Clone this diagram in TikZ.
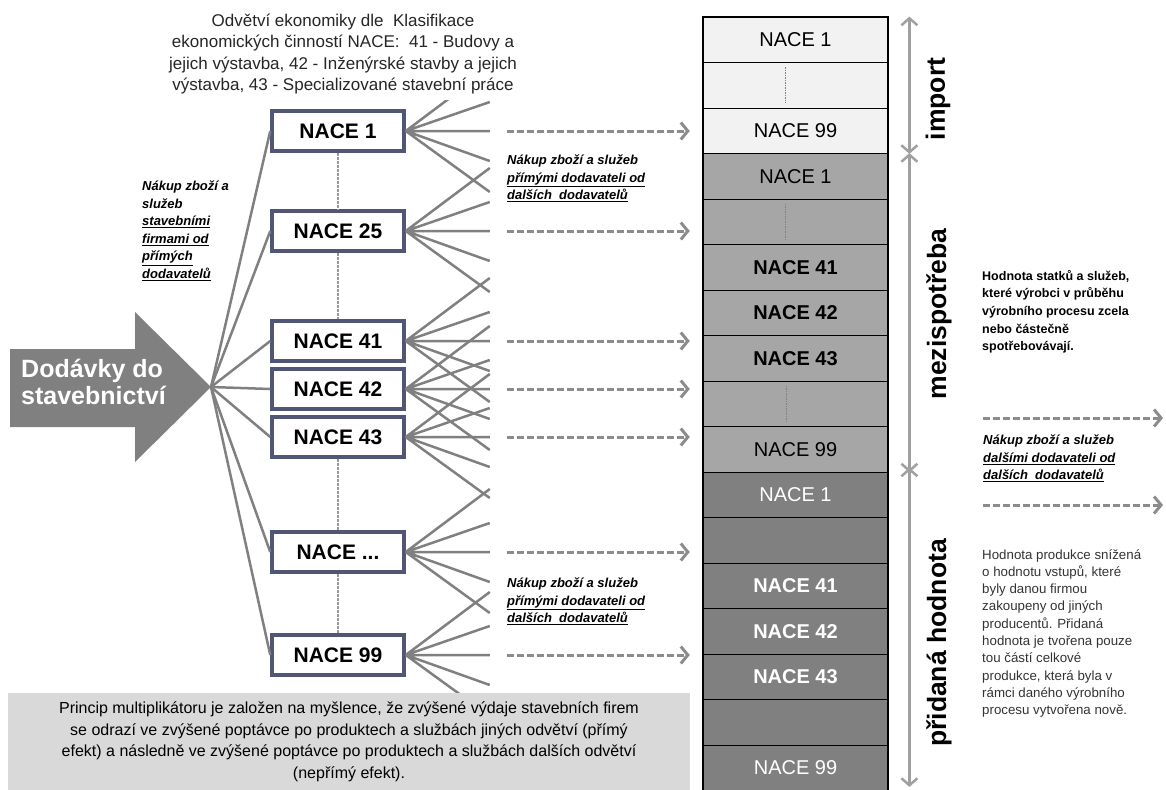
\documentclass[tikz,border=0pt]{standalone}
\usepackage{fontspec}
\setmainfont{Liberation Sans}
\usepackage{tikz}
\usetikzlibrary{shapes,arrows.meta,positioning}
\definecolor{naceframe}{HTML}{505673}
\definecolor{fangray}{HTML}{808080}
\definecolor{dashgray}{HTML}{8C8C8C}
\definecolor{spangray}{HTML}{A0A0A0}
\definecolor{impfill}{HTML}{F2F2F2}
\definecolor{midfill}{HTML}{A6A6A6}
\definecolor{addfill}{HTML}{808080}
\definecolor{boxfill}{HTML}{D9D9D9}
\definecolor{textgray}{HTML}{333333}
\tikzstyle{nacebox} = [draw=naceframe, line width=3.5pt, fill=white, minimum width=132pt, minimum height=40pt, inner sep=0pt, font=\fontsize{21}{24}\selectfont\bfseries]
\tikzstyle{fan} = [draw=fangray, line width=2.5pt]
\tikzstyle{dline} = [draw=fangray!80, line width=1.2pt, dash pattern=on 3pt off 1pt]
\tikzstyle{darrow} = [draw=dashgray, line width=3pt, dash pattern=on 7pt off 3pt, -{Straight Barb[length=7pt,width=17pt]}]
\tikzstyle{colrow} = [draw=black, line width=0.8pt, minimum width=185pt, minimum height=45.5pt, inner sep=0pt, font=\fontsize{20}{24}\selectfont]
\tikzstyle{improw} = [colrow, fill=impfill]
\tikzstyle{midrow} = [colrow, fill=midfill]
\tikzstyle{addrow} = [colrow, fill=addfill, text=white]
\tikzstyle{rowdots} = [draw=gray, line width=0.8pt, dash pattern=on 1.5pt off 1pt]
\tikzstyle{spanarrow} = [draw=spangray, line width=2.5pt, {Straight Barb[length=7pt,width=16pt]}-{Straight Barb[length=7pt,width=16pt]}]
\tikzstyle{sidelabel} = [rotate=90, inner sep=0pt, font=\fontsize{26.5}{30}\selectfont\bfseries]
\tikzstyle{note} = [inner sep=0pt, anchor=north west, align=left, font=\fontsize{13}{17.5}\selectfont\bfseries\itshape]

\begin{document}
\begin{tikzpicture}[x=1pt, y=-1pt]
			\useasboundingbox (0,0) rectangle (1166,789);
			\clip (0,0) rectangle (1166,789);

			\fill [fangray] (10,349) -- (135,349) -- (135,312) -- (211,387) -- (135,462) -- (135,427) -- (10,427) -- cycle;
			\coordinate (tip) at (211,387);
			\node [anchor=west, inner sep=0pt, align=left, text=white, font=\fontsize{25}{27.5}\selectfont\bfseries] (supply) at (21,382) {Dodávky do\\stavebnictví};

			\node [nacebox] (n1) at (338,131) {NACE 1};
			\node [nacebox] (n25) at (338,231) {NACE 25};
			\node [nacebox] (n41) at (338,341) {NACE 41};
			\node [nacebox] (n42) at (338,389) {NACE 42};
			\node [nacebox] (n43) at (338,437) {NACE 43};
			\node [nacebox] (ndots) at (338,552) {NACE ...};
			\node [nacebox] (n99) at (338,655) {NACE 99};

			\path [dline] (n1) -- (n25);
			\path [dline] (n25) -- (n41);
			\path [dline] (n43) -- (ndots);
			\path [dline] (ndots) -- (n99);

			\path [fan] (tip) -- (n1.west);
			\path [fan] (tip) -- (n25.west);
			\path [fan] (tip) -- (n41.west);
			\path [fan] (tip) -- (n42.west);
			\path [fan] (tip) -- (n43.west);
			\path [fan] (tip) -- (ndots.west);
			\path [fan] (tip) -- (n99.west);

			\path [fan] (n1.east) -- +(84,-63) (n1.east) -- +(84,-29) (n1.east) -- +(84,0) (n1.east) -- +(84,30) (n1.east) -- +(84,61);
			\path [fan] (n25.east) -- +(84,-63) (n25.east) -- +(84,-29) (n25.east) -- +(84,0) (n25.east) -- +(84,30) (n25.east) -- +(84,61);
			\path [fan] (n41.east) -- +(84,-63) (n41.east) -- +(84,-29) (n41.east) -- +(84,0) (n41.east) -- +(84,30) (n41.east) -- +(84,61);
			\path [fan] (n42.east) -- +(84,-63) (n42.east) -- +(84,-29) (n42.east) -- +(84,0) (n42.east) -- +(84,30) (n42.east) -- +(84,61);
			\path [fan] (n43.east) -- +(84,-63) (n43.east) -- +(84,-29) (n43.east) -- +(84,0) (n43.east) -- +(84,30) (n43.east) -- +(84,61);
			\path [fan] (ndots.east) -- +(84,-63) (ndots.east) -- +(84,-29) (ndots.east) -- +(84,0) (ndots.east) -- +(84,30) (ndots.east) -- +(84,61);
			\path [fan] (n99.east) -- +(84,-63) (n99.east) -- +(84,-29) (n99.east) -- +(84,0) (n99.east) -- +(84,30) (n99.east) -- +(84,61);

			\path [darrow] ([xshift=101pt]n1.east) -- ([xshift=284pt]n1.east);
			\path [darrow] ([xshift=101pt]n25.east) -- ([xshift=284pt]n25.east);
			\path [darrow] ([xshift=101pt]n41.east) -- ([xshift=284pt]n41.east);
			\path [darrow] ([xshift=101pt]n42.east) -- ([xshift=284pt]n42.east);
			\path [darrow] ([xshift=101pt]n43.east) -- ([xshift=284pt]n43.east);
			\path [darrow] ([xshift=101pt]ndots.east) -- ([xshift=284pt]ndots.east);
			\path [darrow] ([xshift=101pt]n99.east) -- ([xshift=284pt]n99.east);

			\node [improw] (r1) at (795.5,39.75) {NACE 1};
			\node [improw] (r2) at (795.5,85.25) {};
			\node [improw] (r3) at (795.5,130.75) {NACE 99};
			\node [midrow] (r4) at (795.5,176.25) {NACE 1};
			\node [midrow] (r5) at (795.5,221.75) {};
			\node [midrow, font=\fontsize{20}{24}\selectfont\bfseries] (r6) at (795.5,267.25) {NACE 41};
			\node [midrow, font=\fontsize{20}{24}\selectfont\bfseries] (r7) at (795.5,312.75) {NACE 42};
			\node [midrow, font=\fontsize{20}{24}\selectfont\bfseries] (r8) at (795.5,358.25) {NACE 43};
			\node [midrow] (r9) at (795.5,403.75) {};
			\node [midrow] (r10) at (795.5,449.25) {NACE 99};
			\node [addrow] (r11) at (795.5,494.75) {NACE 1};
			\node [addrow] (r12) at (795.5,540.25) {};
			\node [addrow, font=\fontsize{20}{24}\selectfont\bfseries] (r13) at (795.5,585.75) {NACE 41};
			\node [addrow, font=\fontsize{20}{24}\selectfont\bfseries] (r14) at (795.5,631.25) {NACE 42};
			\node [addrow, font=\fontsize{20}{24}\selectfont\bfseries] (r15) at (795.5,676.75) {NACE 43};
			\node [addrow] (r16) at (795.5,722.25) {};
			\node [addrow] (r17) at (795.5,767.75) {NACE 99};
			\draw [line width=2pt] (r1.north west) rectangle (r17.south east);

			\path [rowdots] (r2.center) ++(-10,-18) -- ++(0,36);
			\path [rowdots] (r5.center) ++(-10,-18) -- ++(0,36);
			\path [rowdots] (r9.center) ++(-9,-18) -- ++(0,36);

			\path [spanarrow] ([xshift=21pt]r1.north east) -- ([xshift=21pt]r3.south east);
			\path [spanarrow] ([xshift=21pt]r4.north east) -- ([xshift=21pt]r10.south east);
			\path [spanarrow] ([xshift=21pt, yshift=4pt]r11.north east) -- ([xshift=21pt, yshift=4pt]r17.south east);

			\node [sidelabel] (imp) at (938,99) {import};
			\node [sidelabel] (mid) at (939,314) {mezispotřeba};
			\node [sidelabel] (add) at (939,643) {přidaná hodnota};

			\node [note] (buy1) at (142,181) {Nákup zboží a\\služeb\\\underline{stavebními}\\\underline{firmami od}\\\underline{přímých}\\\underline{dodavatelů}};
			\node [note] (buy2) at (507,155) {Nákup zboží a služeb\\\underline{přímými dodavateli od}\\\underline{dalších\ \ dodavatelů}};
			\node [note] (buy3) at (507,578) {Nákup zboží a služeb\\\underline{přímými dodavateli od}\\\underline{dalších\ \ dodavatelů}};
			\node [note] (buy4) at (983,435) {Nákup zboží a služeb\\\underline{dalšími dodavateli od}\\\underline{dalších\ \ dodavatelů}};

			\coordinate (s1) at (983,418);
			\coordinate (e1) at (1163,418);
			\coordinate (s2) at (983,505);
			\coordinate (e2) at (1163,505);
			\path [darrow] (s1) -- (e1);
			\path [darrow] (s2) -- (e2);

			\node [note, font=\fontsize{12.5}{17.6}\selectfont\bfseries] (interm) at (982,270) {Hodnota statků a služeb,\\které výrobci v průběhu\\výrobního procesu zcela\\nebo částečně\\spotřebovávají.};
			\node [note, text=textgray, font=\fontsize{13.3}{17.3}\selectfont] (added) at (982,549) {Hodnota produkce snížená\\o hodnotu vstupů, které\\byly danou firmou\\zakoupeny od jiných\\producentů. Přidaná\\hodnota je tvořena pouze\\tou částí celkové\\produkce, která byla v\\rámci daného výrobního\\procesu vytvořena nově.};

			\node [fill=white, minimum width=400pt, minimum height=92pt, align=center, text=black!85, font=\fontsize{17}{21.3}\selectfont] (title) at (343,54) {Odvětví ekonomiky dle\ \ Klasifikace\\ekonomických činností NACE:\ \ 41 - Budovy a\\jejich výstavba, 42 - Inženýrské stavby a jejich\\výstavba, 43 - Specializované stavební práce};
			\node [fill=boxfill, minimum width=682pt, minimum height=98pt, align=center, font=\fontsize{16}{21.5}\selectfont] (princip) at (349,742) {Princip multiplikátoru je založen na myšlence, že zvýšené výdaje stavebních firem\\se odrazí ve zvýšené poptávce po produktech a službách jiných odvětví (přímý\\efekt) a následně ve zvýšené poptávce po produktech a službách dalších odvětví\\(nepřímý efekt).};
		\end{tikzpicture}
\end{document}
